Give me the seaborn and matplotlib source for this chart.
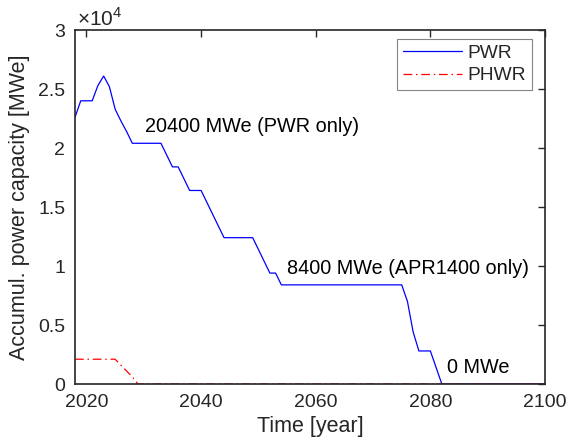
import matplotlib
matplotlib.use("Agg")
import matplotlib.pyplot as plt
import seaborn as sns
import pandas as pd
import numpy as np
from matplotlib.ticker import FuncFormatter

# ---- data ----
pwr_years = [2018, 2019, 2020, 2021, 2022, 2023, 2024, 2025, 2026, 2027, 2028,
             2033, 2034, 2035, 2036, 2037, 2038, 2040, 2041, 2042, 2043, 2044,
             2049, 2050, 2051, 2052, 2053, 2054, 2075, 2076, 2077, 2078, 2080,
             2081, 2082, 2100]
pwr_values = [22600, 24000, 24000, 24000, 25300, 26100, 25200, 23300, 22300, 21400, 20400,
              20400, 19400, 18400, 18400, 17400, 16400, 16400, 15400, 14400, 13400, 12400,
              12400, 11400, 10400, 9400, 9400, 8400, 8400, 7000, 4400, 2800, 2800,
              1400, 0, 0]
phwr_years = [2018, 2025, 2026, 2027, 2028, 2029, 2100]
phwr_values = [2100, 2100, 1600, 1100, 600, 0, 0]

x_ticks = [2020, 2040, 2060, 2080, 2100]
y_ticks = [0, 5000, 10000, 15000, 20000, 25000, 30000]
annotations = [("20400 MWe (PWR only)", 2030.2, 21850),
               ("8400 MWe (APR1400 only)", 2055.0, 9830),
               ("0 MWe", 2082.9, 1440)]

sns.set_style("white")
plt.rcParams['font.family'] = ['Liberation Sans', 'DejaVu Sans']
plt.rcParams['mathtext.fontset'] = 'custom'
plt.rcParams['mathtext.rm'] = 'Liberation Sans'

fig = plt.figure(figsize=(5.68, 4.48), dpi=100)
ax = fig.add_axes([75/568, 64/448, 470/568, 354/448])

dark = (0.15, 0.15, 0.15)
df_pwr = pd.DataFrame({"Year": pwr_years, "Cap": pwr_values})
df_phwr = pd.DataFrame({"Year": phwr_years, "Cap": phwr_values})
sns.lineplot(data=df_pwr, x="Year", y="Cap", ax=ax, color=(0, 0, 1), lw=0.9,
             label="PWR")
sns.lineplot(data=df_phwr, x="Year", y="Cap", ax=ax, color=(1, 0, 0), lw=0.9,
             linestyle=(0, (7, 3, 1.2, 3)), label="PHWR")

ax.set_xlim(2018, 2100)
ax.set_ylim(0, 30000)
ax.set_xticks(x_ticks)
ax.set_yticks(y_ticks)
ax.yaxis.set_major_formatter(FuncFormatter(lambda v, p: f"{v/1e4:g}"))
ax.tick_params(direction='in', length=5, width=1, top=True, right=True,
               labelsize=14, colors=dark, pad=7)
for s in ax.spines.values():
    s.set_color(dark)
    s.set_linewidth(1.2)
ax.set_xlabel("Time [year]", fontsize=15.5, color=dark, labelpad=4)
ax.set_ylabel("Accumul. power capacity [MWe]", fontsize=15.5, color=dark, labelpad=6)
ax.text(0.005, 1.0, r"$\times10^{4}$", transform=ax.transAxes, fontsize=15,
        color=dark, ha='left', va='bottom')

for txt, x, y in annotations:
    ax.text(x, y, txt, fontsize=14.3, color='black', ha='left', va='center')

leg = ax.legend(loc='upper right', bbox_to_anchor=(532/568, 418/448 - 9/448),
                bbox_transform=fig.transFigure, borderaxespad=0,
                fontsize=13.8, frameon=True, fancybox=False,
                edgecolor=(0.4, 0.4, 0.4), handlelength=3.1, handletextpad=0.3,
                borderpad=0.3, labelspacing=0.25)
leg.get_frame().set_linewidth(0.8)
for t in leg.get_texts():
    t.set_color(dark)

fig.savefig("out.png", dpi=100)
